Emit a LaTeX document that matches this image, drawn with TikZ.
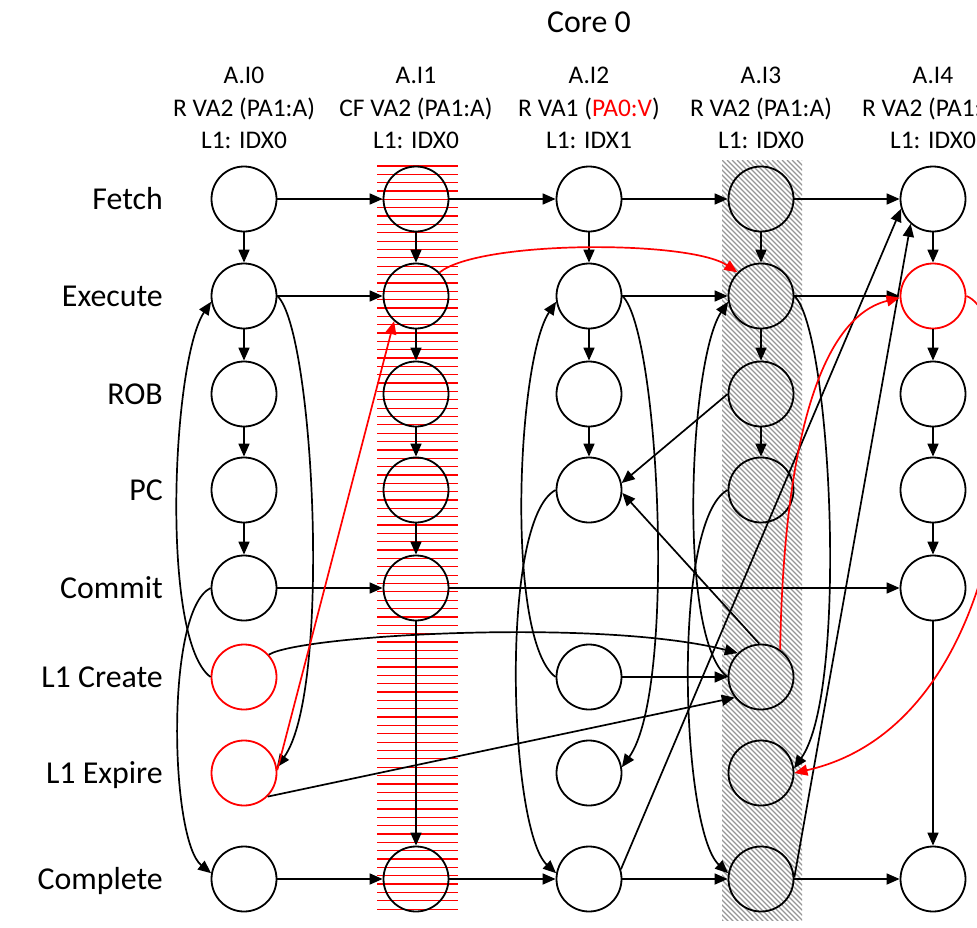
\documentclass[tikz,border=0pt]{standalone}
\usepackage{fontspec}
\setmainfont{Carlito}
\usetikzlibrary{arrows.meta}
\begin{document}
\begin{tikzpicture}[x=1bp,y=-1bp,
  stage/.style={circle,draw,line width=1.8bp,minimum size=65bp,inner sep=0pt},
  hot/.style={stage,draw=red},
  flow/.style={line width=1.7bp,-{Triangle[length=13bp,width=11bp]}},
  hotflow/.style={flow,draw=red},
  rowlab/.style={anchor=base east,font=\fontsize{32}{38}\selectfont,inner sep=0pt},
  collab/.style={anchor=base,font=\fontsize{25.5}{30}\selectfont,inner sep=0pt},
  redstripe/.style={draw=red,line width=1.25bp},
  greyhatch/.style={draw={rgb,255:red,150;green,150;blue,150},line width=1.1bp}
]
\useasboundingbox (0,0) rectangle (977,928);

% striped background of instruction A.I1
\foreach \k in {0,...,89}
  \draw[redstripe] (377,{166+8.35*\k}) -- (458,{166+8.35*\k});

% hatched background of instruction A.I3
\begin{scope}
  \clip (722,160) rectangle (802,920);
  \foreach \k in {-160,...,20}
    \draw[greyhatch] ({722+5*\k},160) -- ++(800,800);
\end{scope}

% titles
\node[collab,font=\fontsize{32}{38}\selectfont] (core) at (589,32) {Core 0};
\node[collab] (h0a) at (244,83) {A.I0};
\node[collab] (h0b) at (244,116) {R VA2 (PA1:A)};
\node[collab] (h0c) at (244,148) {L1: IDX0};
\node[collab] (h1a) at (416,83) {A.I1};
\node[collab] (h1b) at (416,116) {CF VA2 (PA1:A)};
\node[collab] (h1c) at (416,148) {L1: IDX0};
\node[collab] (h2a) at (589,83) {A.I2};
\node[collab] (h2b) at (589,116) {R VA1 (\textcolor{red}{PA0:V})};
\node[collab] (h2c) at (589,148) {L1: IDX1};
\node[collab] (h3a) at (761,83) {A.I3};
\node[collab] (h3b) at (761,116) {R VA2 (PA1:A)};
\node[collab] (h3c) at (761,148) {L1: IDX0};
\node[collab] (h4a) at (933,83) {A.I4};
\node[collab] (h4b) at (933,116) {R VA2 (PA1:A)};
\node[collab] (h4c) at (933,148) {L1: IDX0};

% stage names
\node[rowlab] (lF) at (163,209.5) {Fetch};
\node[rowlab] (lE) at (163,306.5) {Execute};
\node[rowlab] (lR) at (163,404.5) {ROB};
\node[rowlab] (lP) at (163,500.5) {PC};
\node[rowlab] (lM) at (163,598.5) {Commit};
\node[rowlab] (lC) at (163,687.5) {L1 Create};
\node[rowlab] (lX) at (163,783.5) {L1 Expire};
\node[rowlab] (lD) at (163,889.5) {Complete};

% A.I0
\node[stage] (F0) at (244,199) {};
\node[stage] (E0) at (244,296) {};
\node[stage] (R0) at (244,394) {};
\node[stage] (P0) at (244,490) {};
\node[stage] (M0) at (244,588) {};
\node[hot]   (LC0) at (244,677) {};
\node[hot]   (LE0) at (244,773) {};
\node[stage] (CP0) at (244,879) {};
% A.I1
\node[stage] (F1) at (416,199) {};
\node[stage] (E1) at (416,296) {};
\node[stage] (R1) at (416,394) {};
\node[stage] (P1) at (416,490) {};
\node[stage] (M1) at (416,588) {};
\node[stage] (CP1) at (416,879) {};
% A.I2
\node[stage] (F2) at (589,199) {};
\node[stage] (E2) at (589,296) {};
\node[stage] (R2) at (589,394) {};
\node[stage] (P2) at (589,490) {};
\node[stage] (LC2) at (589,677) {};
\node[stage] (LE2) at (589,773) {};
\node[stage] (CP2) at (589,879) {};
% A.I3
\node[stage] (F3) at (761,199) {};
\node[stage] (E3) at (761,296) {};
\node[stage] (R3) at (761,394) {};
\node[stage] (P3) at (761,490) {};
\node[stage] (LC3) at (761,677) {};
\node[stage] (LE3) at (761,773) {};
\node[stage] (CP3) at (761,879) {};
% A.I4
\node[stage] (F4) at (933,199) {};
\node[hot]   (E4) at (933,296) {};
\node[stage] (R4) at (933,394) {};
\node[stage] (P4) at (933,490) {};
\node[stage] (M4) at (933,588) {};
\node[stage] (CP4) at (933,879) {};

% program order inside each instruction
\foreach \a/\b in {F0/E0,E0/R0,R0/P0,P0/M0,
                   F1/E1,E1/R1,R1/P1,P1/M1,M1/CP1,
                   F2/E2,E2/R2,R2/P2,
                   F3/E3,E3/R3,R3/P3,
                   F4/E4,E4/R4,R4/P4,P4/M4,M4/CP4}
  \draw[flow] (\a) -- (\b);

% in-order stages across instructions
\foreach \a/\b in {F0/F1,F1/F2,F2/F3,F3/F4,
                   E0/E1,E2/E3,E3/E4,
                   M0/M1,M1/M4,LC2/LC3,
                   CP0/CP1,CP1/CP2,CP2/CP3,CP3/CP4}
  \draw[flow] (\a) -- (\b);

% L1 create before execute
\draw[flow] (LC0.west) .. controls (160,640) and (172,360) .. (E0.190);
\draw[flow] (LC2.west) .. controls (505,640) and (517,360) .. (E2.190);
\draw[flow] (LC3.west) .. controls (677,640) and (689,360) .. (E3.190);

% execute before L1 expire
\draw[flow] (E0.east) .. controls (314,330) and (332,690) .. (LE0.10);
\draw[flow] (E2.east) .. controls (659,330) and (677,690) .. (LE2.10);
\draw[flow] (E3.east) .. controls (831,330) and (849,690) .. (LE3.8);

% completion edges
\draw[flow] (M0.west) .. controls (165,610) and (170,840) .. (CP0.170);
\draw[flow] (P2.west) .. controls (499,520) and (509,830) .. (CP2.170);
\draw[flow] (P3.west) .. controls (671,520) and (681,830) .. (CP3.170);

% cross-instruction edges
\draw[flow] (LC0.42) .. controls (300,635) and (600,618) .. (LC3.134);
\draw[flow] (LE0.-45) -- (LC3.218);
\draw[flow] (CP2.17) -- (F4.197);
\draw[flow] (CP3.3) -- (F4.228);
\draw[flow] (LC3.93) -- (P2.355);
\draw[flow] (R3.180) -- (P2.12);

% highlighted edges
\draw[hotflow] (LE0.5) -- (E1.229);
\draw[hotflow] (E1.45) .. controls (480,240) and (690,240) .. (E3.135);
\draw[hotflow] (LC3.55) .. controls (783,480) and (810,320) .. (E4.183);
\draw[hotflow] (E4.east) .. controls (1030,320) and (1030,720) .. (LE3.east);
\end{tikzpicture}
\end{document}
